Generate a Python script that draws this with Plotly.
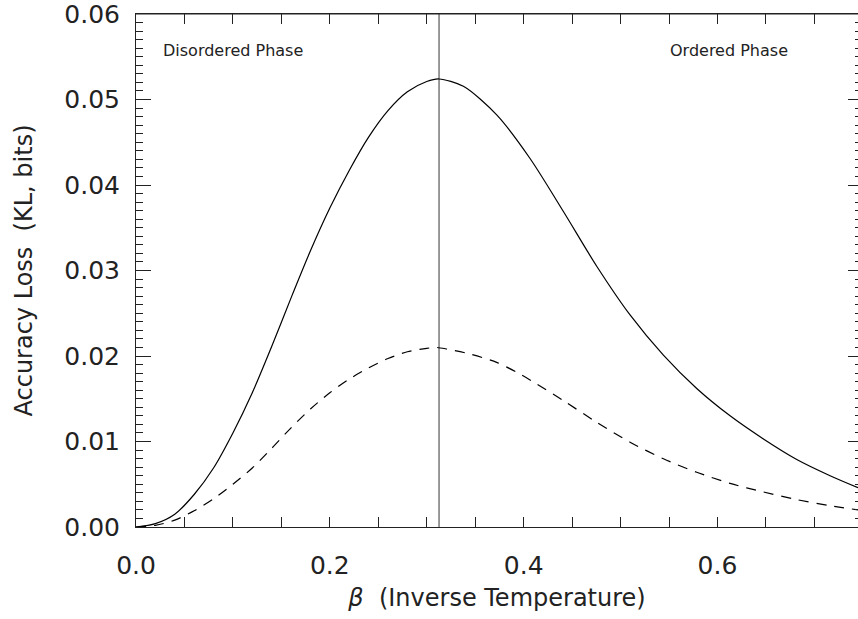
import plotly.graph_objects as go

# --- data ---
beta_solid = [0.0, 0.02, 0.04, 0.06, 0.08, 0.10, 0.12, 0.14, 0.16, 0.18, 0.20, 0.22, 0.24, 0.26,
              0.28, 0.30, 0.3127, 0.3378, 0.3722, 0.4066, 0.441, 0.4754, 0.5098, 0.5442, 0.5786,
              0.613, 0.6474, 0.6818, 0.7162, 0.745]
kl_solid = [0.0, 0.0004, 0.0015, 0.0038, 0.0069, 0.0110, 0.0157, 0.0211, 0.0268, 0.0323, 0.0373,
            0.0417, 0.0456, 0.0487, 0.0509, 0.0521, 0.0524, 0.05154, 0.0482, 0.0431, 0.0369, 0.0305,
            0.0248, 0.0201, 0.0162, 0.0130, 0.0103, 0.0079, 0.0060, 0.0046]

beta_dash = [0.0, 0.02, 0.04, 0.06, 0.08, 0.10, 0.12, 0.14, 0.16, 0.18, 0.20, 0.22, 0.24, 0.26,
             0.28, 0.30, 0.31, 0.3206, 0.3447, 0.3722, 0.3929, 0.4135, 0.441, 0.4754, 0.5098,
             0.5442, 0.5786, 0.613, 0.6474, 0.6818, 0.7162, 0.745]
kl_dash = [0.0, 0.0002, 0.0008, 0.0019, 0.0033, 0.0050, 0.0069, 0.0092, 0.0116, 0.0138, 0.0157,
           0.0173, 0.0186, 0.0197, 0.0205, 0.0209, 0.0210, 0.02082, 0.02023, 0.01925, 0.01809,
           0.01673, 0.01478, 0.01225, 0.00992, 0.00798, 0.0064, 0.0051, 0.0041, 0.0032, 0.0025, 0.0020]

beta_critical = 0.3127

x_range = [0, 0.745]
y_range = [0, 0.0600001]
x_ticks = [0.0, 0.2, 0.4, 0.6]
x_ticklabels = ["0.0", "0.2", "0.4", "0.6"]
y_ticks = [0.00, 0.01, 0.02, 0.03, 0.04, 0.05, 0.06]
y_ticklabels = ["0.00", "0.01", "0.02", "0.03", "0.04", "0.05", "0.06"]

phase_labels = ["Disordered Phase", "Ordered Phase"]
phase_x = [0.0258, 0.5493]
phase_y = [0.0557, 0.0557]

FONT = "DejaVu Sans"
INK = "#222222"

fig = go.Figure()
fig.add_trace(go.Scatter(x=[beta_critical, beta_critical], y=[0, 0.06], mode="lines",
                         line=dict(color="#808080", width=1.6), hoverinfo="skip", showlegend=False))
fig.add_trace(go.Scatter(x=beta_solid, y=kl_solid, mode="lines",
                         line=dict(color="black", width=1.2, shape="spline", smoothing=0.8),
                         showlegend=False))
fig.add_trace(go.Scatter(x=beta_dash, y=kl_dash, mode="lines",
                         line=dict(color="black", width=1.2, shape="spline", smoothing=0.8, dash="10px,8px"),
                         showlegend=False))
# invisible traces anchoring the top and right tick axes
fig.add_trace(go.Scatter(x=[x_range[0]], y=[y_range[0]], yaxis="y2", mode="markers",
                         marker=dict(opacity=0), hoverinfo="skip", showlegend=False))
fig.add_trace(go.Scatter(x=[x_range[0]], y=[y_range[0]], xaxis="x2", mode="markers",
                         marker=dict(opacity=0), hoverinfo="skip", showlegend=False))

for txt, xx, yy in zip(phase_labels, phase_x, phase_y):
    fig.add_annotation(x=xx, y=yy, text=txt, showarrow=False, xanchor="left", yanchor="middle",
                       font=dict(family=FONT, size=16, color=INK))

# top frame edge
fig.add_shape(type="line", xref="paper", yref="paper", x0=0, x1=1, y0=1, y1=1,
              line=dict(color=INK, width=1), layer="above")

minor_x = dict(dtick=0.05, tick0=0, ticks="inside", ticklen=5, tickcolor=INK, tickwidth=1, showgrid=False)

fig.update_layout(
    width=858, height=619,
    margin=dict(l=136, r=0, t=12, b=92),
    paper_bgcolor="white", plot_bgcolor="white",
    font=dict(family=FONT, color=INK),
    xaxis=dict(range=x_range, tickvals=x_ticks, ticktext=x_ticklabels,
               showline=True, linecolor=INK, linewidth=1, mirror="allticks",
               ticks="inside", ticklen=10, tickcolor=INK, tickwidth=1,
               minor=minor_x, showgrid=False, zeroline=False,
               tickfont=dict(family=FONT, size=25, color=INK), ticklabelstandoff=16,
               title=dict(text="<i>β</i>  (Inverse Temperature)", font=dict(family=FONT, size=24, color=INK), standoff=10)),
    xaxis2=dict(range=x_range, overlaying="x", side="top", anchor="y", tickvals=x_ticks, showticklabels=False,
                showline=True, linecolor=INK, linewidth=1,
                ticks="inside", ticklen=10, tickcolor=INK, tickwidth=1,
                minor=minor_x, showgrid=False, zeroline=False),
    yaxis=dict(range=y_range, tickvals=y_ticks, ticktext=y_ticklabels,
               showline=True, linecolor=INK, linewidth=1, mirror=False,
               ticks="inside", ticklen=15, tickcolor=INK, tickwidth=1,
               minor=dict(dtick=0.001, tick0=0, ticks="inside", ticklen=7, tickcolor=INK, tickwidth=1, showgrid=False),
               showgrid=False, zeroline=False, ticklabeloverflow="allow",
               tickfont=dict(family=FONT, size=25, color=INK), ticklabelstandoff=10,
               title=dict(text="Accuracy Loss  (KL, bits)", font=dict(family=FONT, size=24, color=INK), standoff=24)),
    yaxis2=dict(range=y_range, overlaying="y", side="right", anchor="x", tickvals=y_ticks, showticklabels=False,
                showline=False, ticks="inside", ticklen=10, tickcolor=INK, tickwidth=1,
                minor=dict(dtick=0.001, tick0=0, ticks="inside", ticklen=3, tickcolor=INK, tickwidth=1, showgrid=False),
                showgrid=False, zeroline=False),
)

fig.write_html("out.html")
